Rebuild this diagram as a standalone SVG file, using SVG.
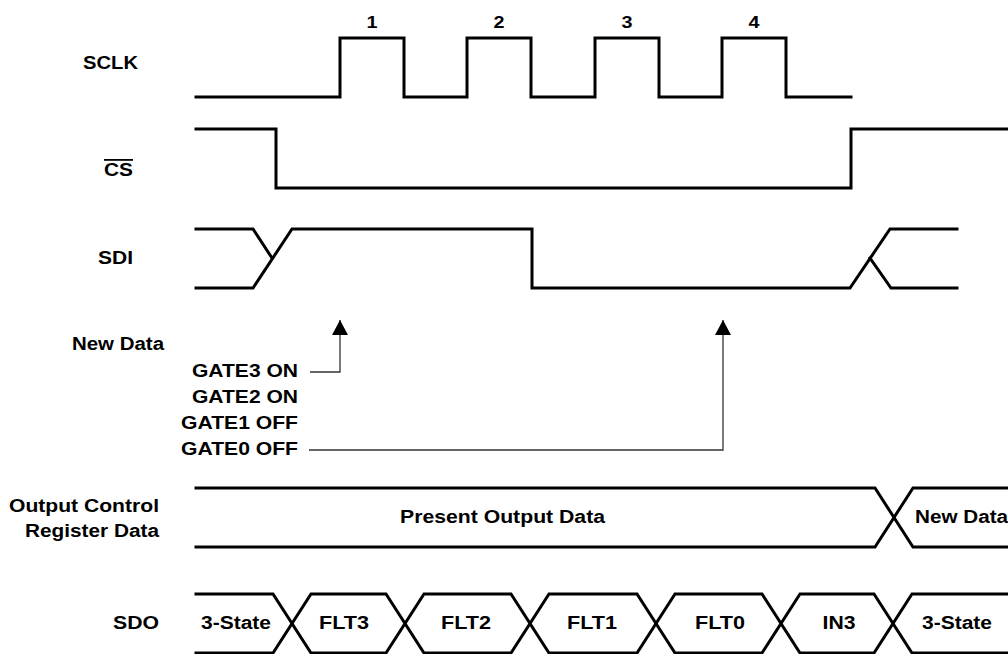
<svg xmlns="http://www.w3.org/2000/svg" width="1008" height="654" viewBox="0 0 1008 654">
<style>
text{font-family:"Liberation Sans",Arial,sans-serif;font-weight:bold;font-size:18px;fill:#000}
.lbl{text-anchor:end}
.mid{text-anchor:middle}
.num{font-size:16px}
.sig{fill:none;stroke:#000;stroke-width:3;stroke-linejoin:miter;stroke-linecap:square}
.ptr{fill:none;stroke:#333;stroke-width:1.3}
</style>
<defs>
<marker id="ah" markerUnits="userSpaceOnUse" markerWidth="18" markerHeight="18" refX="15" refY="8" orient="auto" viewBox="0 0 18 16">
<path d="M0,0 L15,8 L0,16 Z" fill="#000"/>
</marker>
</defs>
<rect width="1008" height="654" fill="#fff"/>

<g id="sclk">
<text class="lbl" x="138" y="69" textLength="55" lengthAdjust="spacingAndGlyphs">SCLK</text>
<path class="sig" d="M196,97 H340 V38 H404 V97 H467 V38 H531 V97 H595 V38 H659 V97 H722 V38 H786 V97 H851"/>
<text class="mid num" x="372" y="28" textLength="11" lengthAdjust="spacingAndGlyphs">1</text>
<text class="mid num" x="499" y="28" textLength="11" lengthAdjust="spacingAndGlyphs">2</text>
<text class="mid num" x="627" y="28" textLength="11" lengthAdjust="spacingAndGlyphs">3</text>
<text class="mid num" x="754" y="28" textLength="11" lengthAdjust="spacingAndGlyphs">4</text>
</g>

<g id="cs">
<text class="lbl" x="133" y="176" textLength="29" lengthAdjust="spacingAndGlyphs" text-decoration="overline">CS</text>
<path class="sig" d="M196,129 H276 V188 H851 V129 H1010"/>
</g>

<g id="sdi">
<text class="lbl" x="133" y="264" textLength="35" lengthAdjust="spacingAndGlyphs">SDI</text>
<path class="sig" d="M196,229 H253 L272,258"/>
<path class="sig" d="M196,288 H253 L292,229 H532 V288 H850 L890,229 H957"/>
<path class="sig" d="M870,258 L891,288 H957"/>
</g>

<g id="newdata">
<text class="lbl" x="164" y="350" textLength="92" lengthAdjust="spacingAndGlyphs">New Data</text>
<text class="lbl" x="298" y="377" textLength="106" lengthAdjust="spacingAndGlyphs">GATE3 ON</text>
<text class="lbl" x="298" y="403" textLength="106" lengthAdjust="spacingAndGlyphs">GATE2 ON</text>
<text class="lbl" x="298" y="429" textLength="117" lengthAdjust="spacingAndGlyphs">GATE1 OFF</text>
<text class="lbl" x="298" y="455" textLength="117" lengthAdjust="spacingAndGlyphs">GATE0 OFF</text>
</g>

<g id="connectors">
<path class="ptr" d="M310,372 H340 V320" marker-end="url(#ah)"/>
<path class="ptr" d="M309,450 H723 V320" marker-end="url(#ah)"/>
</g>

<g id="ocr">
<text class="lbl" x="159" y="512" textLength="150" lengthAdjust="spacingAndGlyphs">Output Control</text>
<text class="lbl" x="159" y="537" textLength="134" lengthAdjust="spacingAndGlyphs">Register Data</text>
<path class="sig" d="M196,488 H875 L894,517.5 L875,547 H196"/>
<path class="sig" d="M1010,488 H913 L894,517.5 L913,547 H1010"/>
<text x="400" y="523" textLength="205" lengthAdjust="spacingAndGlyphs">Present Output Data</text>
<text x="915" y="523" textLength="93" lengthAdjust="spacingAndGlyphs">New Data</text>
</g>

<g id="sdo">
<text class="lbl" x="159" y="629" textLength="46" lengthAdjust="spacingAndGlyphs">SDO</text>
<path class="sig" d="M196,594 H273 L292,623.5 L273,653 H196"/>
<path class="sig" d="M292,623.5 L311,594 H386 L405,623.5 L386,653 H311 Z"/>
<path class="sig" d="M405,623.5 L424,594 H511 L530,623.5 L511,653 H424 Z"/>
<path class="sig" d="M530,623.5 L549,594 H637 L656,623.5 L637,653 H549 Z"/>
<path class="sig" d="M656,623.5 L675,594 H762 L781,623.5 L762,653 H675 Z"/>
<path class="sig" d="M781,623.5 L800,594 H874 L893,623.5 L874,653 H800 Z"/>
<path class="sig" d="M1010,594 H912 L893,623.5 L912,653 H1010"/>
<text class="mid" x="236" y="629" textLength="70" lengthAdjust="spacingAndGlyphs">3-State</text>
<text class="mid" x="344" y="629" textLength="50" lengthAdjust="spacingAndGlyphs">FLT3</text>
<text class="mid" x="466" y="629" textLength="50" lengthAdjust="spacingAndGlyphs">FLT2</text>
<text class="mid" x="592" y="629" textLength="50" lengthAdjust="spacingAndGlyphs">FLT1</text>
<text class="mid" x="720" y="629" textLength="50" lengthAdjust="spacingAndGlyphs">FLT0</text>
<text class="mid" x="839" y="629" textLength="33" lengthAdjust="spacingAndGlyphs">IN3</text>
<text class="mid" x="957" y="629" textLength="70" lengthAdjust="spacingAndGlyphs">3-State</text>
</g>
</svg>
